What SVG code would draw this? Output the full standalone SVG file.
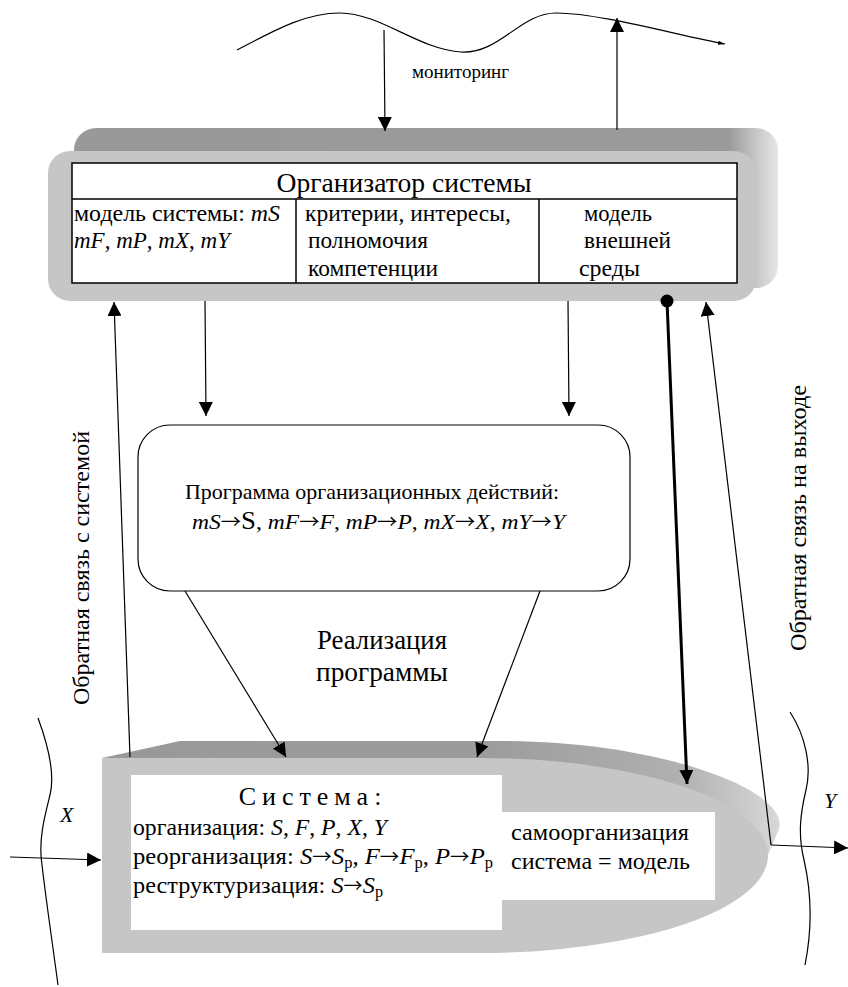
<svg xmlns="http://www.w3.org/2000/svg" width="848" height="987" viewBox="0 0 848 987">
<defs>
<style>
text{font-family:"Liberation Serif","Noto Serif","DejaVu Serif","FreeSerif","Times New Roman",serif;fill:#000}
.ln{stroke:#000;stroke-width:1.2;fill:none}
.thick{stroke:#000;stroke-width:3;fill:none}
.i{font-style:italic}
.ar{font-family:"Noto Sans CJK SC","DejaVu Sans",sans-serif;font-style:normal;font-size:19px}
</style>
<marker id="ahb" viewBox="0 0 10 10" refX="10" refY="5" markerWidth="14" markerHeight="14" markerUnits="userSpaceOnUse" orient="auto"><path d="M0,0 L10,5 L0,10 z" fill="#000"/></marker>
<marker id="ahs" viewBox="0 0 10 10" refX="10" refY="5" markerWidth="7" markerHeight="7" markerUnits="userSpaceOnUse" orient="auto"><path d="M0,2 L10,5 L0,8 z" fill="#000"/></marker>
<linearGradient id="sideG" x1="0" y1="0" x2="1" y2="0">
<stop offset="0" stop-color="#999"/><stop offset="0.93" stop-color="#9a9a9a"/><stop offset="0.97" stop-color="#c8c8c8"/><stop offset="1" stop-color="#e6e6e6"/>
</linearGradient>
<linearGradient id="topG" x1="0" y1="0" x2="1" y2="0">
<stop offset="0" stop-color="#999"/><stop offset="0.55" stop-color="#9b9b9b"/><stop offset="0.85" stop-color="#b0b0b0"/><stop offset="1" stop-color="#d8d8d8"/>
</linearGradient>
</defs>

<g id="environment">
<path class="ln" d="M237,50 C275,30 305,13 340,13 C380,13 420,50 461,52 C500,54 520,13 556,13 C600,13 680,36 725,44" marker-end="url(#ahs)"/>
<text x="412" y="78" font-size="19" textLength="97" lengthAdjust="spacingAndGlyphs">мониторинг</text>
<path class="ln" d="M38,718 C48,745 55,775 50,795 C45,815 38,840 42,865 C46,900 52,940 58,985"/>
<path class="ln" d="M790,712 C805,735 812,765 806,790 C800,815 798,835 804,860 C812,895 812,930 805,965"/>
<text x="60" y="822" font-size="22" class="i">X</text>
<text x="824" y="808" font-size="22" class="i">Y</text>
</g>

<g id="organizer">
<rect x="74" y="128" width="704" height="160" rx="22" fill="url(#sideG)"/>
<rect x="48" y="151" width="708" height="150" rx="22" fill="#c6c6c6"/>
<rect x="72" y="163" width="665" height="120" fill="#fff" stroke="#000" stroke-width="1.5"/>
<line x1="72" y1="199" x2="737" y2="199" stroke="#000" stroke-width="1.5"/>
<line x1="296" y1="199" x2="296" y2="283" stroke="#000" stroke-width="1.5"/>
<line x1="539" y1="199" x2="539" y2="283" stroke="#000" stroke-width="1.5"/>
<text x="404" y="192" font-size="27" text-anchor="middle" textLength="255" lengthAdjust="spacingAndGlyphs">Организатор системы</text>
<text x="74" y="221" font-size="23" textLength="206" lengthAdjust="spacingAndGlyphs">модель системы: <tspan class="i">mS</tspan></text>
<text x="74" y="248" font-size="23"><tspan class="i">mF</tspan>, <tspan class="i">mP</tspan>, <tspan class="i">mX</tspan>, <tspan class="i">mY</tspan></text>
<text x="305" y="221" font-size="23" textLength="206" lengthAdjust="spacingAndGlyphs">критерии, интересы,</text>
<text x="308" y="248" font-size="23" textLength="120" lengthAdjust="spacingAndGlyphs">полномочия</text>
<text x="308" y="276" font-size="23" textLength="130" lengthAdjust="spacingAndGlyphs">компетенции</text>
<text x="584" y="221" font-size="23" textLength="68" lengthAdjust="spacingAndGlyphs">модель</text>
<text x="584" y="248" font-size="23" textLength="87" lengthAdjust="spacingAndGlyphs">внешней</text>
<text x="579" y="276" font-size="23" textLength="61" lengthAdjust="spacingAndGlyphs">среды</text>
</g>

<g id="program">
<rect x="138" y="425" width="492" height="166" rx="32" fill="#fff" stroke="#000" stroke-width="1.2"/>
<text x="185" y="499" font-size="22" textLength="374" lengthAdjust="spacingAndGlyphs">Программа организационных действий:</text>
<text x="192" y="529" font-size="22" textLength="373" lengthAdjust="spacingAndGlyphs"><tspan class="i">mS</tspan><tspan class="ar">→</tspan><tspan font-size="25">S</tspan>, <tspan class="i">mF</tspan><tspan class="ar">→</tspan><tspan class="i">F</tspan>, <tspan class="i">mP</tspan><tspan class="ar">→</tspan><tspan class="i">P</tspan>, <tspan class="i">mX</tspan><tspan class="ar">→</tspan><tspan class="i">X</tspan>, <tspan class="i">mY</tspan><tspan class="ar">→</tspan><tspan class="i">Y</tspan></text>
</g>

<g id="realization-label">
<text x="382" y="649" font-size="27" text-anchor="middle" textLength="130" lengthAdjust="spacingAndGlyphs">Реализация</text>
<text x="382" y="681" font-size="27" text-anchor="middle" textLength="132" lengthAdjust="spacingAndGlyphs">программы</text>
</g>

<g id="system">
<path d="M102,758 L180,741 L500,741 C660,741 790,790 779,829 L768,855 L480,855 L102,855 z" fill="url(#topG)"/>
<path d="M102,758 L480,758 A288,97.5 0 0 1 480,953 L102,953 z" fill="#c6c6c6"/>
<path d="M131,775 L502,775 L502,812 L715,812 L715,900 L502,900 L502,930 L131,930 z" fill="#fff"/>
<text x="313" y="805" font-size="26" text-anchor="middle" letter-spacing="6">Система:</text>
<text x="133" y="835" font-size="24" textLength="254" lengthAdjust="spacingAndGlyphs">организация: <tspan class="i">S</tspan>, <tspan class="i">F</tspan>, <tspan class="i">P</tspan>, <tspan class="i">X</tspan>, <tspan class="i">Y</tspan></text>
<text x="133" y="864" font-size="24" textLength="360" lengthAdjust="spacingAndGlyphs">реорганизация: <tspan class="i">S</tspan><tspan class="ar">→</tspan><tspan class="i">S</tspan><tspan font-size="16" dy="4">р</tspan><tspan dy="-4">, </tspan><tspan class="i">F</tspan><tspan class="ar">→</tspan><tspan class="i">F</tspan><tspan font-size="16" dy="4">р</tspan><tspan dy="-4">, </tspan><tspan class="i">P</tspan><tspan class="ar">→</tspan><tspan class="i">P</tspan><tspan font-size="16" dy="4">р</tspan></text>
<text x="133" y="893" font-size="24" textLength="250" lengthAdjust="spacingAndGlyphs">реструктуризация: <tspan class="i">S</tspan><tspan class="ar">→</tspan><tspan class="i">S</tspan><tspan font-size="16" dy="4">р</tspan></text>
<text x="511" y="840" font-size="24" textLength="178" lengthAdjust="spacingAndGlyphs">самоорганизация</text>
<text x="511" y="869" font-size="24" textLength="179" lengthAdjust="spacingAndGlyphs">система = модель</text>
</g>

<g id="connectors">
<line class="ln" x1="384" y1="30" x2="385" y2="131" marker-end="url(#ahb)"/>
<line class="ln" x1="617" y1="130" x2="617" y2="18" marker-end="url(#ahb)"/>
<line class="ln" x1="205" y1="301" x2="206" y2="416" marker-end="url(#ahb)"/>
<line class="ln" x1="568" y1="301" x2="569" y2="416" marker-end="url(#ahb)"/>
<line class="ln" x1="185" y1="591" x2="286" y2="757" marker-end="url(#ahb)"/>
<line class="ln" x1="540" y1="591" x2="477" y2="757" marker-end="url(#ahb)"/>
<line class="ln" x1="130" y1="757" x2="114" y2="302" marker-end="url(#ahb)"/>
<line class="ln" x1="771" y1="845" x2="706" y2="302" marker-end="url(#ahb)"/>
<circle cx="667" cy="301" r="6.5" fill="#000"/>
<line class="thick" x1="667" y1="301" x2="687" y2="784" marker-end="url(#ahb)"/>
<line class="ln" x1="10" y1="857" x2="101" y2="860" marker-end="url(#ahb)"/>
<line class="ln" x1="771" y1="845" x2="848" y2="848" marker-end="url(#ahb)"/>
</g>

<g id="feedback-labels">
<text transform="translate(89,568) rotate(-90)" font-size="24" text-anchor="middle" textLength="274" lengthAdjust="spacingAndGlyphs">Обратная связь с системой</text>
<text transform="translate(806,518) rotate(-90)" font-size="24" text-anchor="middle" textLength="266" lengthAdjust="spacingAndGlyphs">Обратная связь на выходе</text>
</g>
</svg>
